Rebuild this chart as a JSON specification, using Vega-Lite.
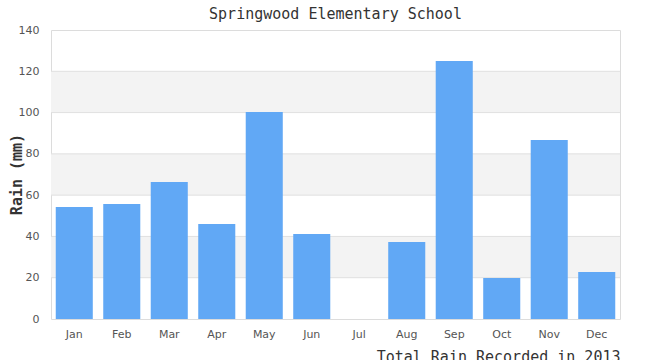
{
  "$schema": "https://vega.github.io/schema/vega-lite/v6.json",
  "autosize": "none",
  "width": 569,
  "height": 289,
  "padding": {"left": 51, "top": 30, "right": 30, "bottom": 41},
  "background": "white",
  "config": {
    "view": {"stroke": "#dcdcdc", "strokeWidth": 1},
    "font": "DejaVu Sans"
  },
  "title": {
    "text": "Springwood Elementary School",
    "font": "DejaVu Sans Mono",
    "fontSize": 15,
    "fontWeight": "normal",
    "color": "#333333",
    "anchor": "middle",
    "offset": 2
  },
  "datasets": {
    "rain": [
      {"month": "Jan", "rain": 54.3},
      {"month": "Feb", "rain": 55.7},
      {"month": "Mar", "rain": 66.4},
      {"month": "Apr", "rain": 46.0},
      {"month": "May", "rain": 100.3},
      {"month": "Jun", "rain": 41.2},
      {"month": "Jul", "rain": 0},
      {"month": "Aug", "rain": 37.3},
      {"month": "Sep", "rain": 125.0},
      {"month": "Oct", "rain": 19.9},
      {"month": "Nov", "rain": 86.7},
      {"month": "Dec", "rain": 22.8}
    ],
    "bands": [
      {"lo": 20, "hi": 40},
      {"lo": 60, "hi": 80},
      {"lo": 100, "hi": 120}
    ],
    "grid": [
      {"v": 20}, {"v": 40}, {"v": 60}, {"v": 80}, {"v": 100}, {"v": 120}
    ]
  },
  "layer": [
    {
      "data": {"name": "bands"},
      "mark": {"type": "rect", "color": "#f3f3f3"},
      "encoding": {
        "y": {"field": "lo", "type": "quantitative", "scale": {"domain": [0, 140]}},
        "y2": {"field": "hi"}
      }
    },
    {
      "data": {"name": "grid"},
      "mark": {"type": "rule", "color": "#e0e0e0", "strokeWidth": 1},
      "encoding": {
        "y": {"field": "v", "type": "quantitative"}
      }
    },
    {
      "data": {"name": "rain"},
      "mark": {"type": "bar", "color": "#61a8f5"},
      "encoding": {
        "x": {
          "field": "month",
          "type": "nominal",
          "sort": null,
          "scale": {"paddingInner": 0.22, "paddingOuter": 0.1},
          "axis": {
            "title": "Total Rain Recorded in 2013",
            "titleFont": "DejaVu Sans Mono",
            "titleFontSize": 15,
            "titleFontWeight": "normal",
            "titleColor": "#333333",
            "titleAnchor": "end",
            "titleAlign": "right",
            "titleBaseline": "alphabetic",
            "titleY": 42,
            "labelAngle": 0,
            "labelFontSize": 11,
            "labelColor": "#555555",
            "labelPadding": 9,
            "ticks": false,
            "domain": false
          }
        },
        "y": {
          "field": "rain",
          "type": "quantitative",
          "scale": {"domain": [0, 140]},
          "axis": {
            "values": [0, 20, 40, 60, 80, 100, 120, 140],
            "title": "Rain (mm)",
            "titleFont": "DejaVu Sans Mono",
            "titleFontSize": 15,
            "titleFontWeight": "bold",
            "titleColor": "#333333",
            "titleX": -27,
            "titleY": 144,
            "titleAngle": -90,
            "titleAlign": "center",
            "titleBaseline": "bottom",
            "labelFontSize": 11,
            "labelColor": "#555555",
            "labelPadding": 12,
            "ticks": false,
            "domain": false,
            "grid": false
          }
        }
      }
    }
  ]
}
